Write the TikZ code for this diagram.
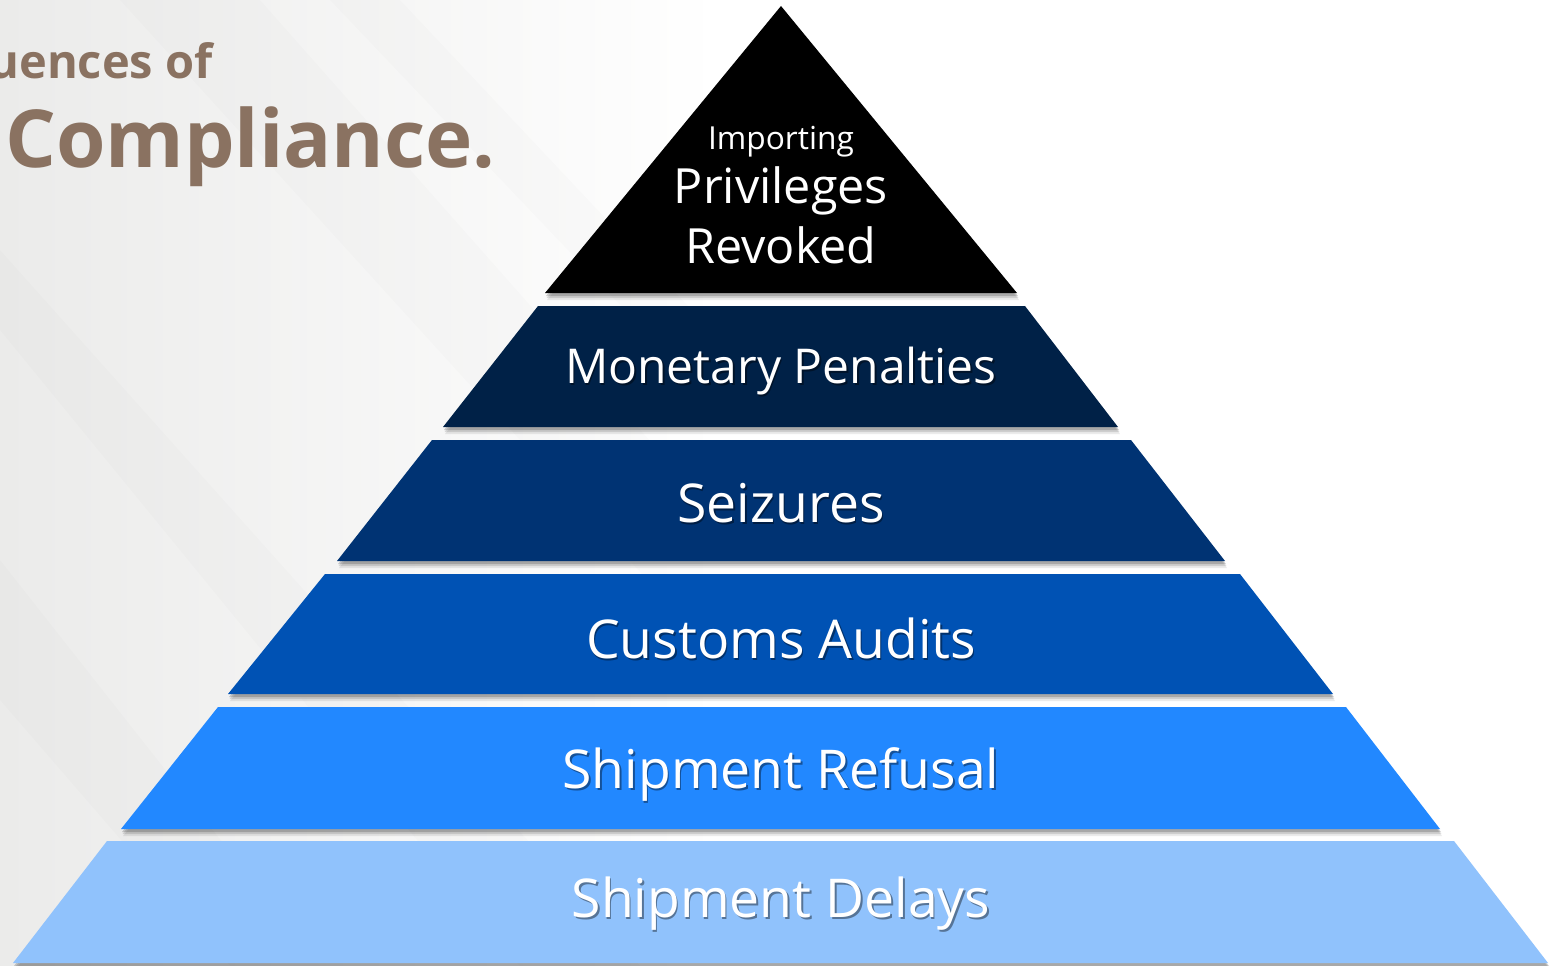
\documentclass[tikz,border=0pt]{standalone}
\usepackage{fontspec}
\setmainfont{Open Sans}
\usetikzlibrary{shadows}
\definecolor{lvA}{HTML}{000000}
\definecolor{lvB}{HTML}{002147}
\definecolor{lvC}{HTML}{003373}
\definecolor{lvD}{HTML}{0052B4}
\definecolor{lvE}{HTML}{2288FF}
\definecolor{lvF}{HTML}{90C2FC}
\definecolor{titlebrown}{HTML}{8A7261}
\definecolor{bggray}{HTML}{EBEBEA}
\begin{document}
\begin{tikzpicture}[x=1pt,y=-1pt,
  layer/.style={
    drop shadow={shadow xshift=2pt,shadow yshift=-7pt,opacity=0.08,fill=black},
    drop shadow={shadow xshift=1.5pt,shadow yshift=-5pt,opacity=0.12,fill=black},
    drop shadow={shadow xshift=1pt,shadow yshift=-3pt,opacity=0.18,fill=black}},
  lbl/.style={text=white,inner sep=0pt,anchor=base},
  lblshadow/.style={text=black,opacity=0.4,inner sep=0pt,anchor=base},
  bigtext/.style={font=\fontsize{53.5}{53.5}\selectfont},
  midtext/.style={font=\fontsize{48.5}{48.5}\selectfont},
  band/.style={fill=black,opacity=0.012}
]
\useasboundingbox (0,0) rectangle (1561,966);
% background
\fill[white] (0,0) rectangle (1561,966);
\shade[left color=bggray,right color=white] (0,0) rectangle (720,966);
\begin{scope}
\clip (0,0) rectangle (720,966);
\fill[band] (120,0) -- (260,0) -- (720,520) -- (720,660) -- cycle;
\fill[band] (0,250) -- (0,330) -- (520,966) -- (640,966) -- cycle;
\fill[band] (0,560) -- (0,700) -- (230,966) -- (320,966) -- cycle;
\fill[band] (330,0) -- (400,0) -- (720,340) -- (720,410) -- cycle;
\end{scope}
% title
\node[anchor=base east,text=titlebrown,inner sep=0pt,font=\bfseries\fontsize{47}{47}\selectfont] (t1) at (213,78) {uences of};
\node[anchor=base west,text=titlebrown,inner sep=0pt,font=\bfseries\fontsize{80}{80}\selectfont] (t2) at (5,167) {Compliance.};
% pyramid layers
\fill[lvA,layer] (781,6) -- (1017,293) -- (545,293) -- cycle;
\fill[lvB,layer] (538,306) -- (1025,306) -- (1118,427) -- (443,427) -- cycle;
\fill[lvC,layer] (432,440) -- (1131,440) -- (1225,561) -- (337,561) -- cycle;
\fill[lvD,layer] (325,574) -- (1240,574) -- (1333,694) -- (228,694) -- cycle;
\fill[lvE,layer] (218,707) -- (1346,707) -- (1440,829) -- (121,829) -- cycle;
\fill[lvF,layer] (107,841) -- (1454,841) -- (1548,963) -- (13,963) -- cycle;
% labels
\node[lbl,font=\fontsize{31.7}{31.7}\selectfont] (a1) at (781,149) {Importing};
\node[lbl,midtext] (a2) at (781,203) {Privileges};
\node[lbl,midtext] (a3) at (781,263) {Revoked};
\node[lblshadow,font=\fontsize{48}{48}\selectfont] (s2) at (782.5,385) {Monetary Penalties};
\node[lbl,font=\fontsize{48}{48}\selectfont] (b) at (781,383) {Monetary Penalties};
\node[lblshadow,bigtext] (s3) at (782.5,524) {Seizures};
\node[lbl,bigtext] (c) at (781,522) {Seizures};
\node[lblshadow,bigtext] (s4) at (782.5,660) {Customs Audits};
\node[lbl,bigtext] (d) at (781,658) {Customs Audits};
\node[lblshadow,bigtext] (s5) at (782.5,790) {Shipment Refusal};
\node[lbl,bigtext] (e) at (781,788) {Shipment Refusal};
\node[lblshadow,bigtext] (s6) at (782.5,919) {Shipment Delays};
\node[lbl,bigtext] (f) at (781,917) {Shipment Delays};
\end{tikzpicture}
\end{document}
